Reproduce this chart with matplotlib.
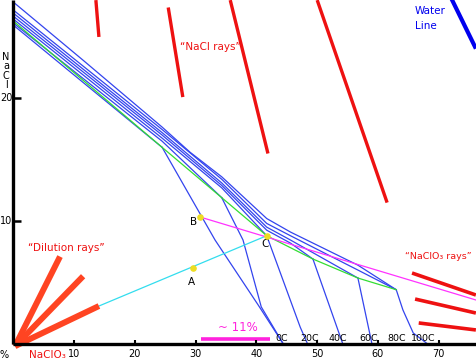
import matplotlib
matplotlib.use("Agg")
import matplotlib.pyplot as plt

# NaCl - NaClO3 - water phase diagram (mass %)
# NaCl branches of the isotherms (x = NaClO3 %, y = NaCl %)
nacl_x = [
    [0, 24.5],
    [0, 24.5, 34.3],
    [0, 24.5, 34.3, 41.7],
    [0, 24.5, 34.3, 41.7, 45.6, 49.3],
    [0, 24.5, 34.3, 41.7, 45.6, 56.7],
    [0, 24.5, 34.3, 41.7, 45.6, 56.7, 63.0],
    [0, 11.5, 24.5, 29.1, 34.3, 41.7, 45.6, 56.7, 63.0],
]
nacl_y = [
    [25.97, 16.0],
    [26.14, 16.5, 11.9],
    [26.46, 16.75, 12.7, 8.8],
    [26.7, 17.0, 12.9, 9.25, 8.2, 6.9],
    [26.95, 17.2, 13.1, 9.5, 8.45, 5.35],
    [27.2, 17.45, 13.4, 9.8, 8.8, 6.0, 4.4],
    [27.85, 23.1, 17.65, 15.6, 13.6, 10.2, 9.1, 6.4, 4.4],
]

# NaClO3 branches (corner down to the axis)
clo3_x = [
    [24.5, 33.2, 40.3, 44.4],
    [34.3, 37.8, 40.8, 44.4],
    [41.7, 47.2, 48.4],
    [49.3, 54.2],
    [56.7, 59.0],
    [63.0, 64.1, 65.8, 68.1],
]
clo3_y = [
    [16.0, 8.45, 3.15, 0],
    [11.9, 8.45, 3.0, 0],
    [8.8, 1.36, 0],
    [6.9, 0],
    [5.35, 0],
    [4.4, 2.75, 0.87, 0],
]

# double saturation line
green_x = [0, 24.5, 34.3, 41.7, 49.3, 56.7, 63.0]
green_y = [26.3, 16.0, 11.9, 8.8, 6.9, 5.35, 4.4]

temps = ["0C", "20C", "40C", "60C", "80C", "100C"]
temp_x = [44.1, 48.7, 53.4, 58.4, 63.1, 67.4]

pts_name = ["A", "B", "C"]
pts_x = [29.6, 30.7, 41.7]
pts_y = [6.2, 10.33, 8.8]

nacl_rays = [[(13.6, 28.0), (14.1, 25.0)], [(25.5, 27.4), (27.9, 20.1)],
             [(35.7, 28.0), (41.9, 15.5)], [(50.0, 28.0), (61.5, 11.5)]]
clo3_rays = [[(65.6, 5.76), (76.1, 3.97)], [(66.1, 3.64), (76.1, 2.5)],
             [(66.7, 1.69), (76.1, 1.12)]]
dil_rays = [(7.7, 7.1), (11.5, 5.5), (14.1, 3.07)]

xticks = [10, 20, 30, 40, 50, 60, 70]
yticks = [10, 20]

fig = plt.figure(figsize=(4.76, 3.61), dpi=100)
ax = fig.add_axes([0, 0, 1, 1])
ax.set_xlim(-2.17, 76.12)
ax.set_ylim(-1.41, 28.01)
ax.axis("off")

blue = "#3344ee"
for xs, ys in zip(nacl_x, nacl_y):
    ax.plot(xs, ys, color=blue, lw=0.9)
for xs, ys in zip(clo3_x, clo3_y):
    ax.plot(xs, ys, color=blue, lw=0.9)
ax.plot(green_x, green_y, color="#33dd33", lw=0.9)

# construction lines
ax.plot([dil_rays[2][0], pts_x[2]], [dil_rays[2][1], pts_y[2]], color="#33ddee", lw=0.9)
ax.plot([pts_x[1], 76.12], [pts_y[1], 3.56], color="#ff33ff", lw=0.9)

for (x0, y0), (x1, y1) in nacl_rays:
    ax.plot([x0, x1], [y0, y1], color="#ee1111", lw=2.4, solid_capstyle="butt")
for (x0, y0), (x1, y1) in clo3_rays:
    ax.plot([x0, x1], [y0, y1], color="#ee1111", lw=2.6, solid_capstyle="butt")
for x1, y1 in dil_rays:
    ax.plot([0.3, x1], [-0.2, y1], color="#ff4422", lw=4.3, solid_capstyle="butt")
ax.plot([72.2, 75.95], [28.0, 24.2], color="#0000ee", lw=3.0)

ax.scatter(pts_x, pts_y, s=14, color="#eedd22", zorder=5)
ax.text(29.6, 9.9, "B", fontsize=7.5, ha="center", va="center")
ax.text(41.45, 8.1, "C", fontsize=7.5, ha="center", va="center")
ax.text(29.3, 5.0, "A", fontsize=7.5, ha="center", va="center")

# ~11 % mark
ax.plot([30.9, 42.3], [0.38, 0.38], color="#ff22dd", lw=2.6, solid_capstyle="butt")
ax.text(37.0, 1.3, "~ 11%", fontsize=8.5, color="#ff22dd", ha="center", va="center")

for t, x in zip(temps, temp_x):
    ax.text(x, 0.4, t, fontsize=6.8, ha="center", va="center")

# axes drawn by hand
ax.plot([0, 0], [0, 28.01], color="black", lw=2.4, solid_capstyle="butt")
ax.plot([-0.1, 76.12], [0, 0], color="black", lw=2.4, solid_capstyle="butt")
for x in xticks:
    ax.plot([x, x], [0, 0.3], color="black", lw=1.5, solid_capstyle="butt")
    ax.text(x, -0.85, str(x), fontsize=7, ha="center", va="center")
for y in yticks:
    ax.plot([0, 1.3], [y, y], color="black", lw=1.8, solid_capstyle="butt")
    ax.text(-1.1, y, str(y), fontsize=7, ha="center", va="center")
ax.text(-1.5, -0.95, "%", fontsize=7, ha="center", va="center")
ax.text(5.6, -0.9, "NaClO₃", fontsize=7.5, color="#ee1111", ha="center", va="center")
for ch, y in zip("NaCl", [23.4, 22.6, 21.85, 21.1]):
    ax.text(-1.18, y, ch, fontsize=7, ha="center", va="center")

ax.text(66.1, 27.1, "Water", fontsize=7.5, color="#0000ee", va="center")
ax.text(66.1, 25.9, "Line", fontsize=7.5, color="#0000ee", va="center")
ax.text(27.4, 24.2, "\u201cNaCl rays\u201d", fontsize=7.5, color="#ee1111", va="center")
ax.text(2.4, 7.8, "\u201cDilution rays\u201d", fontsize=7.5, color="#ee1111", va="center")
ax.text(70.0, 7.07, "\u201cNaClO₃ rays\u201d", fontsize=6.8, color="#ee1111",
        ha="center", va="center")

fig.savefig("out.png", dpi=100)
